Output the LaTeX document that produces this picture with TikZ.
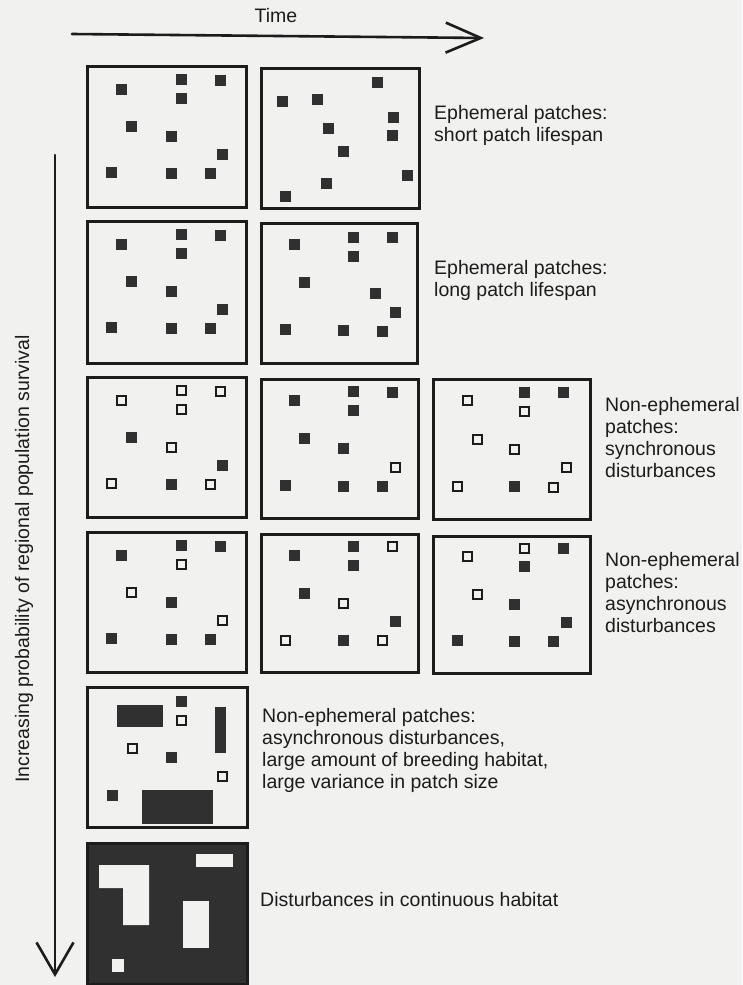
\documentclass[tikz,border=0pt]{standalone}
\usepackage{fontspec}
\setmainfont{Liberation Sans}
\usetikzlibrary{arrows.meta}
\definecolor{paper}{RGB}{241,241,240}
\definecolor{ink}{RGB}{28,28,28}
\definecolor{patchc}{RGB}{48,48,48}
\newcommand\mypatch[3]{\if#3f\fill[patchfill] (#1-5.5,#2-5.5) rectangle ++(11,11);\else\draw[patchopen] (#1-4.5,#2-4.5) rectangle ++(9,9);\fi}
\tikzset{
  panelbox/.style={draw=ink, line width=2.6pt, fill=paper, inner sep=0pt, anchor=north west},
  patchfill/.style={fill=patchc},
  patchopen/.style={draw=ink, line width=2pt, fill=paper},
  hole/.style={fill=paper},
  lbl/.style={font=\fontsize{19.5}{22}\selectfont, text=ink, align=left, inner sep=0pt, anchor=base west},
  axis/.style={draw=ink, line width=2.6pt, line cap=round},
}
\begin{document}
\begin{tikzpicture}[x=1pt,y=-1pt]
\path[use as bounding box, fill=paper] (0,0) rectangle (742,985);

% axes
\coordinate (tA) at (72,34);
\coordinate (tB) at (484,38);
\draw[axis, -{Straight Barb[length=35pt,width=30pt,line width=2.6pt]}] (tA) -- (tB);
\node[font=\fontsize{19.5}{22}\selectfont, text=ink, inner sep=0pt, anchor=base] (time) at (276,22.5) {Time};

\coordinate (vA) at (55,155);
\coordinate (vB) at (55,977);
\draw[axis, -{Straight Barb[length=32pt,width=37pt,line width=2.6pt]}] (vA) -- (vB);
\node[font=\fontsize{19.5}{22}\selectfont, text=ink, inner sep=0pt, anchor=base, rotate=90] (ylab) at (29,559) {Increasing probability of regional population survival};

% Row 1
\node[panelbox, minimum width=159, minimum height=141] (p11) at (86,65) {};
\begin{scope}[shift={(86,65)}]
\foreach \x/\y/\k in {35/24/f,95/14/f,134/15/f,95/33/f,45/61/f,85/71/f,136/89/f,25/107/f,85/108/f,124/108/f}{\mypatch{\x}{\y}{\k}}
\end{scope}
\node[panelbox, minimum width=158, minimum height=140] (p12) at (260,67) {};
\begin{scope}[shift={(260,67)}]
\foreach \x/\y/\k in {117/15/f,22/34/f,57/32/f,133/50/f,68/61/f,132/68/f,83/84/f,147/108/f,66/116/f,25/129/f}{\mypatch{\x}{\y}{\k}}
\end{scope}
\node[lbl] (t1) at (434,141) {Ephemeral patches:\\short patch lifespan};

% Row 2
\node[panelbox, minimum width=159, minimum height=142] (p21) at (86,220) {};
\begin{scope}[shift={(86,220)}]
\foreach \x/\y/\k in {35/24/f,95/14/f,134/15/f,95/33/f,45/61/f,85/71/f,136/89/f,25/107/f,85/108/f,124/108/f}{\mypatch{\x}{\y}{\k}}
\end{scope}
\node[panelbox, minimum width=156, minimum height=140] (p22) at (260,222) {};
\begin{scope}[shift={(260,222)}]
\foreach \x/\y/\k in {34/22/f,93/15/f,132/15/f,93/34/f,44/60/f,115/71/f,135/90/f,25/107/f,83/108/f,122/109/f}{\mypatch{\x}{\y}{\k}}
\end{scope}
\node[lbl] (t2) at (434,296) {Ephemeral patches:\\long patch lifespan};

% Row 3
\node[panelbox, minimum width=159, minimum height=140] (p31) at (86,376) {};
\begin{scope}[shift={(86,376)}]
\foreach \x/\y/\k in {35/24/o,95/14/o,134/15/o,95/33/o,45/61/f,85/71/o,136/89/f,25/107/o,85/108/f,124/108/o}{\mypatch{\x}{\y}{\k}}
\end{scope}
\node[panelbox, minimum width=157, minimum height=139] (p32) at (260,378) {};
\begin{scope}[shift={(260,378)}]
\foreach \x/\y/\k in {34/22/f,93/13/f,132/14/f,93/32/f,44/60/f,83/70/f,135/89/o,25/107/f,83/108/f,122/108/f}{\mypatch{\x}{\y}{\k}}
\end{scope}
\node[panelbox, minimum width=157, minimum height=140] (p33) at (432,378) {};
\begin{scope}[shift={(432,378)}]
\foreach \x/\y/\k in {35/22/o,92/14/f,131/14/f,92/33/o,45/61/o,82/71/o,134/89/o,25/108/o,82/108/f,121/109/o}{\mypatch{\x}{\y}{\k}}
\end{scope}
\node[lbl] (t3) at (605,477) {Non-ephemeral\\patches:\\synchronous\\disturbances};

% Row 4
\node[panelbox, minimum width=159, minimum height=140] (p41) at (86,531) {};
\begin{scope}[shift={(86,531)}]
\foreach \x/\y/\k in {35/24/f,95/14/f,134/15/f,95/33/o,45/61/o,85/71/f,136/89/o,25/107/f,85/108/f,124/108/f}{\mypatch{\x}{\y}{\k}}
\end{scope}
\node[panelbox, minimum width=157, minimum height=138] (p42) at (260,533) {};
\begin{scope}[shift={(260,533)}]
\foreach \x/\y/\k in {34/22/f,93/13/f,132/13/o,93/32/f,44/60/f,83/70/o,135/88/f,25/107/o,83/107/f,122/107/o}{\mypatch{\x}{\y}{\k}}
\end{scope}
\node[panelbox, minimum width=157, minimum height=137] (p43) at (432,535) {};
\begin{scope}[shift={(432,535)}]
\foreach \x/\y/\k in {35/21/o,92/13/o,131/13/f,92/31/f,45/59/o,82/69/f,134/87/f,25/105/f,82/106/f,121/106/f}{\mypatch{\x}{\y}{\k}}
\end{scope}
\node[lbl] (t4) at (605,632) {Non-ephemeral\\patches:\\asynchronous\\disturbances};

% Row 5
\node[panelbox, minimum width=160, minimum height=140] (p51) at (86,686) {};
\begin{scope}[shift={(86,686)}]
\mypatch{95}{15}{f}
\fill[patchfill] (31,19) rectangle (77,41);
\mypatch{95}{34}{o}
\fill[patchfill] (129,21) rectangle (140,67);
\mypatch{46}{62}{o}
\mypatch{85}{71}{f}
\mypatch{136}{90}{o}
\mypatch{26}{109}{f}
\fill[patchfill] (56,104) rectangle (127,138);
\end{scope}
\node[lbl] (t5) at (262,788) {Non-ephemeral patches:\\asynchronous disturbances,\\large amount of breeding habitat,\\large variance in patch size};

% Row 6
\node[panelbox, fill=patchc, minimum width=160, minimum height=141] (p61) at (86,842) {};
\begin{scope}[shift={(86,842)}]
\fill[hole] (110,12) rectangle (147,25);
\fill[hole] (13,23) -- (63,23) -- (63,83) -- (37,83) -- (37,46) -- (13,46) -- cycle;
\fill[hole] (97,59) rectangle (123,106);
\fill[hole] (26,117) rectangle (38,130);
\end{scope}
\node[lbl] (t6) at (260,906) {Disturbances in continuous habitat};
\end{tikzpicture}
\end{document}
